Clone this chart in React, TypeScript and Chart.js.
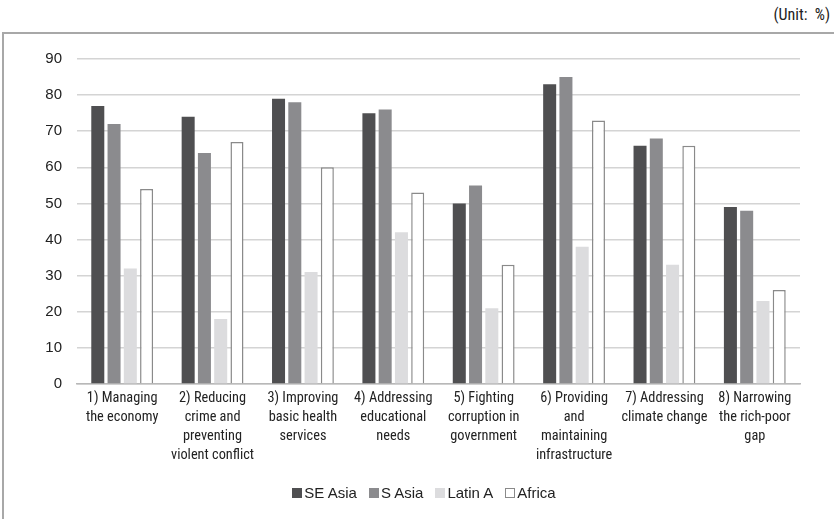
import React, { useEffect, useRef } from "react";
import { Chart, registerables } from "chart.js";

Chart.register(...registerables);

// Category labels, one array of lines per category
const categories: string[][] = [
  ["1) Managing", "the economy"],
  ["2) Reducing", "crime and", "preventing", "violent conflict"],
  ["3) Improving", "basic health", "services"],
  ["4) Addressing", "educational", "needs"],
  ["5) Fighting", "corruption in", "government"],
  ["6) Providing", "and", "maintaining", "infrastructure"],
  ["7) Addressing", "climate change"],
  ["8) Narrowing", "the rich-poor", "gap"],
];

const seAsia = [77, 74, 79, 75, 50, 83, 66, 49];
const sAsia = [72, 64, 78, 76, 55, 85, 68, 48];
const latinA = [32, 18, 31, 42, 21, 38, 33, 23];
const africa = [54, 67, 60, 53, 33, 73, 66, 26];

const yTicks = [0, 10, 20, 30, 40, 50, 60, 70, 80, 90];

const seriesNames = ["SE Asia", "S Asia", "Latin A", "Africa"];
const fills = ["#4f4f51", "#8b8b8e", "#dcdcde", "#ffffff"];
const borders = ["#4f4f51", "#8b8b8e", "#dcdcde", "#8a8a8a"];

const NARROW = '"Roboto Condensed", "Liberation Sans", sans-serif';
const REGULAR = '"Liberation Sans", Arial, sans-serif';
const TEXT = "#222222";

function BarChart() {
  const ref = useRef<HTMLCanvasElement | null>(null);

  useEffect(() => {
    if (!ref.current) return;
    const values = [seAsia, sAsia, latinA, africa];
    const chart = new Chart(ref.current, {
      type: "bar",
      data: {
        labels: categories,
        datasets: values.map((v, i) => ({
          label: seriesNames[i],
          data: v,
          backgroundColor: fills[i],
          borderColor: borders[i],
          borderWidth: i === 3 ? 1.5 : 0,
          barPercentage: 0.8,
          categoryPercentage: 0.72,
        })),
      },
      options: {
        animation: false,
        responsive: false,
        maintainAspectRatio: false,
        layout: { padding: { top: 59, right: 34, bottom: 35, left: 0 } },
        plugins: {
          legend: { display: false },
          tooltip: { enabled: false },
        },
        scales: {
          x: {
            grid: { display: false, drawTicks: false },
            border: { display: true, color: "#b8b8b8", width: 1.5 },
            ticks: {
              color: TEXT,
              font: { family: NARROW, size: 14.3, lineHeight: 1.32 },
              padding: 5,
              maxRotation: 0,
              autoSkip: false,
            },
            afterFit: (s: any) => {
              s.height = 100;
            },
          },
          y: {
            min: 0,
            max: 90,
            afterBuildTicks: (s: any) => {
              s.ticks = yTicks.map((v) => ({ value: v }));
            },
            grid: { color: "#d4d4d4", lineWidth: 1.5, drawTicks: false },
            border: { display: false },
            ticks: {
              color: TEXT,
              font: { family: REGULAR, size: 15 },
              padding: 15,
            },
            afterFit: (s: any) => {
              s.width = 77;
            },
          },
        },
      },
    });
    return () => chart.destroy();
  }, []);

  return <canvas ref={ref} width={834} height={519} style={{ position: "absolute", left: 0, top: 0 }} />;
}

export default function App() {
  return (
    <div style={{ position: "absolute", left: 0, top: 0, width: 834, height: 519, background: "#fff", overflow: "hidden" }}>
      <div
        style={{
          position: "absolute",
          left: 2,
          top: 32,
          width: 832,
          height: 487,
          borderTop: "2px solid #a8a8a8",
          borderLeft: "2px solid #a8a8a8",
          boxSizing: "border-box",
        }}
      />
      <div
        style={{
          position: "absolute",
          right: 4,
          top: 5,
          font: `16px ${NARROW}`,
          color: TEXT,
          whiteSpace: "pre",
        }}
      >
        {"(Unit:  %)"}
      </div>
      <BarChart />
      <div
        style={{
          position: "absolute",
          left: 0,
          width: 834,
          top: 484,
          display: "flex",
          justifyContent: "center",
          font: `15px ${REGULAR}`,
          color: TEXT,
          lineHeight: "18px",
          paddingLeft: 14,
          boxSizing: "border-box",
        }}
      >
        {seriesNames.map((n, i) => (
          <div key={n} style={{ display: "flex", alignItems: "center", marginRight: i < 3 ? 12 : 0 }}>
            <span
              style={{
                display: "inline-block",
                width: 10,
                height: 10,
                boxSizing: "border-box",
                background: fills[i],
                border: i === 3 ? "1px solid #8a8a8a" : "none",
                marginRight: 2,
              }}
            />
            <span>{n}</span>
          </div>
        ))}
      </div>
    </div>
  );
}
